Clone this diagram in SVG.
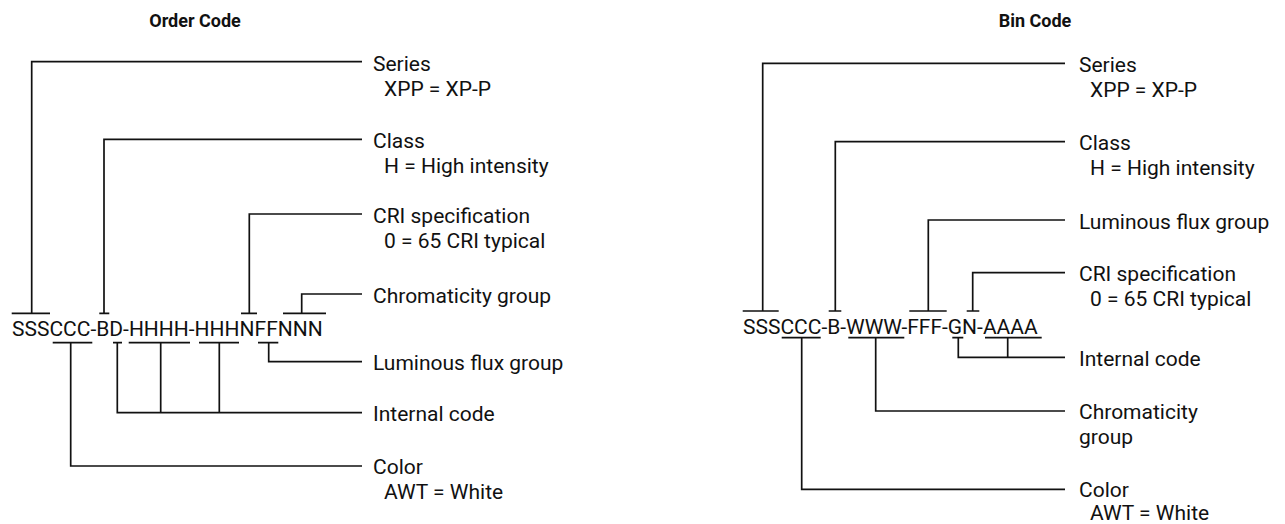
<svg xmlns="http://www.w3.org/2000/svg" width="1285" height="524" viewBox="0 0 1285 524">
<style>
text{font-family:Roboto,"Liberation Sans",sans-serif;font-size:21px;fill:#111}
.t{font-weight:bold;font-size:18px;text-anchor:middle}
.c{stroke:#111;stroke-width:1.7;fill:none}
</style>
<rect width="1285" height="524" fill="#fff"/>
<g id="title-order"><text class="t" x="195" y="27">Order Code</text></g>
<g id="title-bin"><text class="t" x="1035" y="27">Bin Code</text></g>

<g id="order-code"><text x="12" y="336">SSSCCC-BD-HHHH-HHHNFFNNN</text></g>
<g id="bin-code"><text x="743" y="334.3">SSSCCC-B-WWW-FFF-GN-AAAA</text></g>

<g id="order-labels">
<g id="o-series"><text x="373" y="70.5">Series</text><text x="384" y="95.5">XPP = XP-P</text></g>
<g id="o-class"><text x="373" y="148">Class</text><text x="384" y="173">H = High intensity</text></g>
<g id="o-cri"><text x="373" y="222.5">CRI specification</text><text x="384" y="247.5">0 = 65 CRI typical</text></g>
<g id="o-chroma"><text x="373" y="302.5">Chromaticity group</text></g>
<g id="o-flux"><text x="373" y="370">Luminous flux group</text></g>
<g id="o-internal"><text x="373" y="421">Internal code</text></g>
<g id="o-color"><text x="373" y="474">Color</text><text x="384" y="498.5">AWT = White</text></g>
</g>

<g id="bin-labels">
<g id="b-series"><text x="1079" y="72">Series</text><text x="1090" y="97">XPP = XP-P</text></g>
<g id="b-class"><text x="1079" y="150">Class</text><text x="1090" y="175">H = High intensity</text></g>
<g id="b-flux"><text x="1079" y="228.5">Luminous flux group</text></g>
<g id="b-cri"><text x="1079" y="281">CRI specification</text><text x="1090" y="306">0 = 65 CRI typical</text></g>
<g id="b-internal"><text x="1079" y="365.5">Internal code</text></g>
<g id="b-chroma"><text x="1079" y="419">Chromaticity</text><text x="1079" y="444">group</text></g>
<g id="b-color"><text x="1079" y="497">Color</text><text x="1090" y="519.5">AWT = White</text></g>
</g>

<g id="connectors" class="c">
<path d="M11.7 313.3H50M31.7 313.3V61.7H362"/>
<path d="M99.3 313.3H109.3M104 313.3V139.3H362"/>
<path d="M241 313.3H257M249.3 313.3V214H362"/>
<path d="M283 313.3H326M301.7 313.3V294H362"/>
<path d="M258 342.7H278.3M268.7 342.7V361.7H362"/>
<path d="M113 342.7H122M128.7 342.7H190M199 342.7H239M117.3 342.7V412.7H362M160.7 342.7V412.7M219.3 342.7V412.7"/>
<path d="M52.7 342.7H92.3M70.7 342.7V466H362"/>
<path d="M742.7 311H778.7M762.7 311V63.3H1065"/>
<path d="M828.7 311H841.3M835.3 311V141.7H1065"/>
<path d="M909.3 311H946.7M928.3 311V220H1065"/>
<path d="M966.7 311H979.3M972.7 311V272.7H1065"/>
<path d="M781.7 337.7H820.7M801.7 337.7V489.3H1065"/>
<path d="M848.3 337.7H904.3M875.7 337.7V411H1065"/>
<path d="M952.3 337.7H963.3M985 337.7H1041.7M958.3 337.7V357.3H1065M1007.7 337.7V357.3"/>
</g>
</svg>
